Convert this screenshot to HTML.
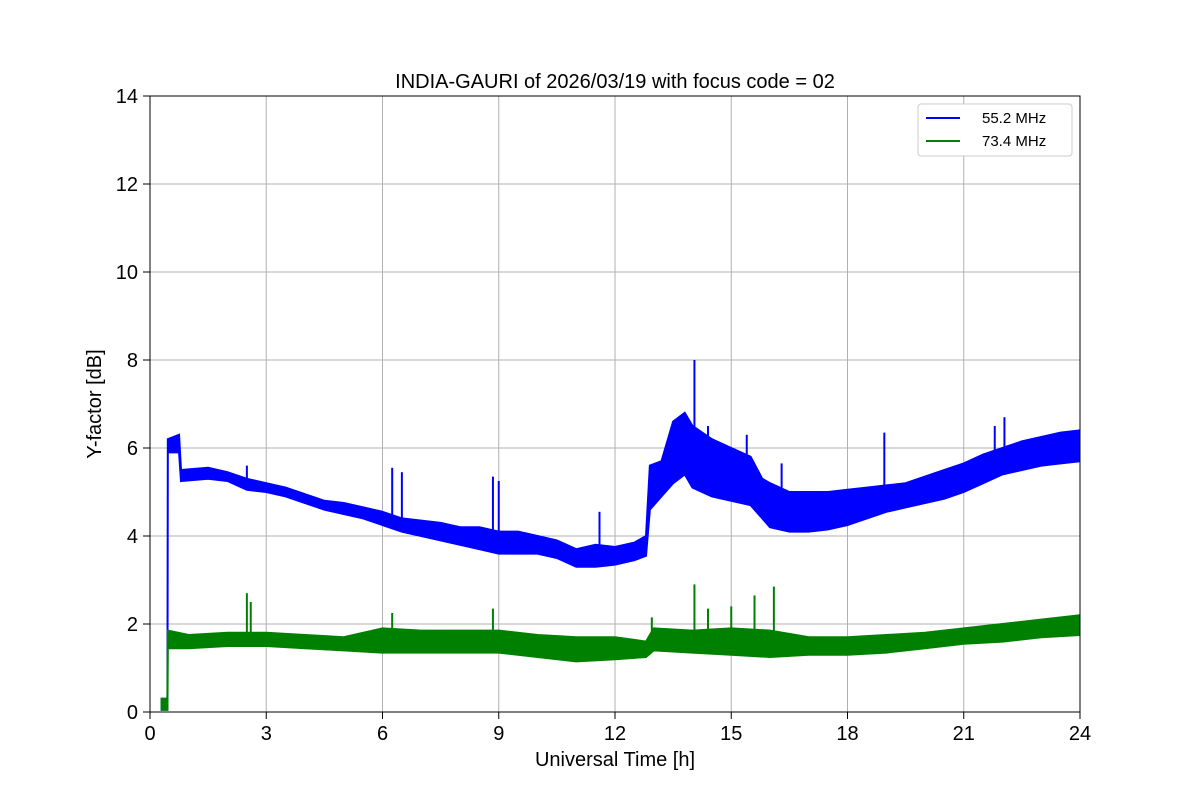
<!DOCTYPE html>
<html><head><meta charset="utf-8">
<style>
body{margin:0;background:#fff;}
svg text{font-family:"Liberation Sans","DejaVu Sans",sans-serif;}
</style></head>
<body>
<svg id="chart" width="1200" height="800" viewBox="0 0 1200 800">
<rect x="0" y="0" width="1200" height="800" fill="#fff"/>
<text x="615" y="88" font-size="20" text-anchor="middle">INDIA-GAURI of 2026/03/19 with focus code = 02</text>
<g id="grid"></g>
<g id="series" clip-path="url(#clip)"></g>
<defs><clipPath id="clip"><rect x="150" y="96" width="930" height="616"/></clipPath></defs>
<rect x="150" y="96" width="930" height="616" fill="none" stroke="#000" stroke-width="1"/>
<g id="ticks"></g>
<text x="615" y="766" font-size="20" text-anchor="middle">Universal Time [h]</text>
<text x="101" y="404" font-size="20" text-anchor="middle" transform="rotate(-90 101 404)">Y-factor [dB]</text>
<g>
<rect x="918" y="104" width="154" height="52" rx="3" fill="#fff" stroke="#ccc"/>
<line x1="926" y1="118" x2="960" y2="118" stroke="#0000ff" stroke-width="2"/>
<text x="982" y="123" font-size="15">55.2 MHz</text>
<line x1="926" y1="141" x2="960" y2="141" stroke="#008000" stroke-width="2"/>
<text x="982" y="146" font-size="15">73.4 MHz</text>
</g>
</svg>
<script>
const xTicks=[0,3,6,9,12,15,18,21,24];
const yTicks=[0,2,4,6,8,10,12,14];
const blueHours=[0.3,0.45,0.46,0.75,0.8,1.5,2,2.5,3,3.5,4,4.5,5,5.5,6,6.5,7,7.5,8,8.5,9,9.5,10,10.5,11,11.5,12,12.5,12.8,12.9,13.2,13.5,13.8,14,14.5,15,15.5,15.8,16,16.5,17,17.5,18,18.5,19,19.5,20,20.5,21,21.5,22,22.5,23,23.5,24];
const blueLow=[0.05,0.05,5.9,5.9,5.25,5.3,5.25,5.05,5.0,4.9,4.75,4.6,4.5,4.4,4.25,4.1,4.0,3.9,3.8,3.7,3.6,3.6,3.6,3.5,3.3,3.3,3.35,3.45,3.55,4.6,4.9,5.2,5.4,5.1,4.9,4.8,4.7,4.4,4.2,4.1,4.1,4.15,4.25,4.4,4.55,4.65,4.75,4.85,5.0,5.2,5.4,5.5,5.6,5.65,5.7];
const blueHigh=[0.3,0.3,6.2,6.3,5.5,5.55,5.45,5.3,5.2,5.1,4.95,4.8,4.75,4.65,4.55,4.4,4.35,4.3,4.2,4.2,4.1,4.1,4.0,3.9,3.7,3.8,3.75,3.85,4.0,5.6,5.7,6.6,6.8,6.5,6.2,6.0,5.8,5.3,5.2,5.0,5.0,5.0,5.05,5.1,5.15,5.2,5.35,5.5,5.65,5.85,6.0,6.15,6.25,6.35,6.4];
const blueSpikeH=[0.7,2.5,6.25,6.5,8.85,9.0,11.6,14.05,14.4,15.4,16.3,18.95,21.8,22.05];
const blueSpikeV=[6.3,5.6,5.55,5.45,5.35,5.25,4.55,8.0,6.5,6.3,5.65,6.35,6.5,6.7];
const greenHours=[0.3,0.45,0.46,1,2,3,4,5,6,7,8,9,10,11,12,12.8,13,14,15,16,17,18,19,20,21,22,23,24];
const greenLow=[0.05,0.05,1.45,1.45,1.5,1.5,1.45,1.4,1.35,1.35,1.35,1.35,1.25,1.15,1.2,1.25,1.4,1.35,1.3,1.25,1.3,1.3,1.35,1.45,1.55,1.6,1.7,1.75];
const greenHigh=[0.3,0.3,1.85,1.75,1.8,1.8,1.75,1.7,1.9,1.85,1.85,1.85,1.75,1.7,1.7,1.6,1.9,1.85,1.9,1.85,1.7,1.7,1.75,1.8,1.9,2.0,2.1,2.2];
const greenSpikeH=[2.5,2.6,6.25,8.85,12.95,14.05,14.4,15.0,15.6,16.1];
const greenSpikeV=[2.7,2.5,2.25,2.35,2.15,2.9,2.35,2.4,2.65,2.85];

const svg=document.getElementById('chart');
const NS='http://www.w3.org/2000/svg';
const X=h=>150+h/24*930;
const Y=v=>712-v/14*616;
function mk(t,a,p){const e=document.createElementNS(NS,t);for(const k in a)e.setAttribute(k,a[k]);p.appendChild(e);return e;}
const grid=document.getElementById('grid'),ticks=document.getElementById('ticks'),ser=document.getElementById('series');
xTicks.forEach(t=>{
 const g=mk('line',{x1:X(t),x2:X(t),y1:96,y2:712,stroke:'#b0b0b0','stroke-width':1},grid);
 
 
 mk('line',{x1:X(t),x2:X(t),y1:712,y2:719,stroke:'#000'},ticks);
 const l=mk('text',{x:X(t),y:740,'font-size':20,'text-anchor':'middle'},ticks);l.textContent=t;
 
 
});
yTicks.forEach(t=>{
 const g=mk('line',{x1:150,x2:1080,y1:Y(t),y2:Y(t),stroke:'#b0b0b0','stroke-width':1},grid);
 
 
 mk('line',{x1:143,x2:150,y1:Y(t),y2:Y(t),stroke:'#000'},ticks);
 const l=mk('text',{x:138,y:Y(t)+7,'font-size':20,'text-anchor':'end'},ticks);l.textContent=t;
 
 
});
function band(hs,lo,hi,sh,sv,col,name){
 let pts=hs.map((h,i)=>X(h)+','+Y(hi[i]));
 for(let i=hs.length-1;i>=0;i--)pts.push(X(hs[i])+','+Y(lo[i]));
 const p=mk('polygon',{points:pts.join(' '),fill:col,stroke:col,'stroke-width':2},ser);
 
 
 sh.forEach((h,i)=>{
  let j=hs.findIndex(x=>x>=h);if(j<0)j=hs.length-1;
  const l=mk('line',{x1:X(h),x2:X(h),y1:Y(sv[i]),y2:Y((lo[j]+hi[j])/2),stroke:col,'stroke-width':2},ser);
  
  
 });
}
band(blueHours,blueLow,blueHigh,blueSpikeH,blueSpikeV,'#0000ff','series-55mhz');
band(greenHours,greenLow,greenHigh,greenSpikeH,greenSpikeV,'#008000','series-73mhz');
</script>
</body></html>
